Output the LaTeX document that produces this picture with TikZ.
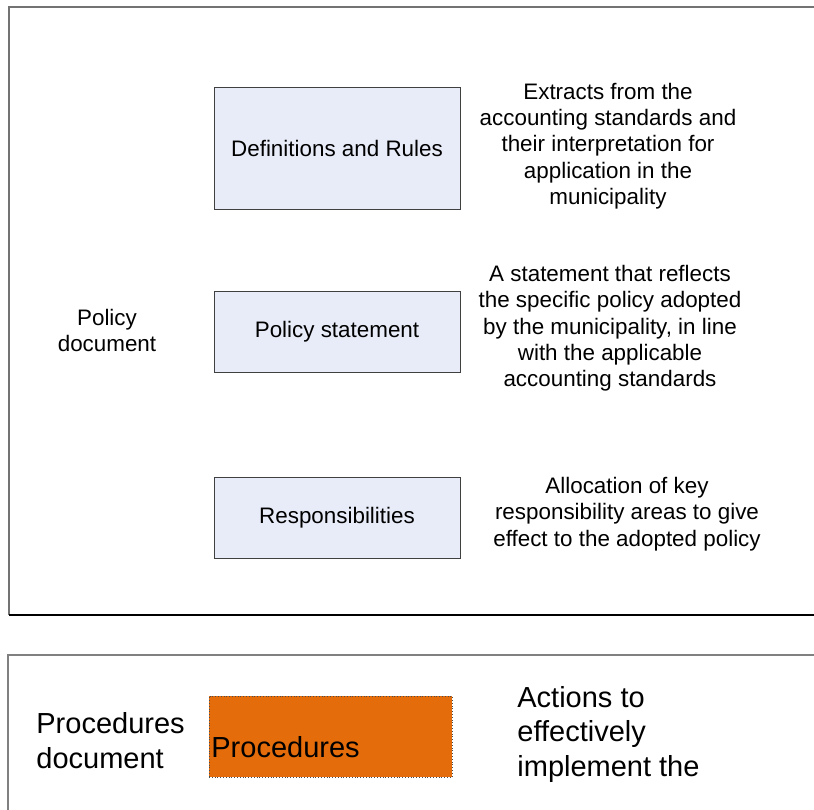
\documentclass[tikz,border=0pt]{standalone}
\usepackage{fontspec}
\setmainfont{Liberation Sans}
\definecolor{boxblue}{HTML}{E8ECF8}
\definecolor{procorange}{HTML}{E46C0A}
\begin{document}
\begin{tikzpicture}[x=0.5pt, y=-0.5pt,
  box/.style={draw=black!75, fill=boxblue, line width=0.5pt, minimum width=123pt, inner sep=0pt},
  small/.style={inner sep=0pt, align=center, font=\fontsize{11.2}{13.15}\selectfont},
  big/.style={inner sep=0pt, align=left, font=\fontsize{14.5}{17.25}\selectfont}]
\useasboundingbox (0,0) rectangle (814,809);
\clip (0,0) rectangle (814,809);
\draw[line width=0.75pt, black!55] (830,7) -- (9,7) -- (9,615);
\draw[line width=0.75pt, black] (9,615) -- (830,615);
\draw[line width=0.75pt, black!50] (830,655) -- (8,655) -- (8,830);
\node[box, minimum height=61pt, small] (defs) at (337,148) {Definitions and Rules};
\node[box, minimum height=40.5pt, small] (stmt) at (337,331.5) {Policy statement};
\node[box, minimum height=40.5pt, small] (resp) at (337,517.5) {Responsibilities};
\node[small] (policydoc) at (107,330.5) {Policy\\document};
\node[small] (defstext) at (608,146) {Extracts from the\\accounting standards and\\their interpretation for\\application in the\\municipality};
\node[small] (stmttext) at (610,328.5) {A statement that reflects\\the specific policy adopted\\by the municipality, in line\\with the applicable\\accounting standards};
\node[small] (resptext) at (627,514) {Allocation of key\\responsibility areas to give\\effect to the adopted policy};
\node[draw=black!70, densely dotted, line width=0.4pt, fill=procorange, minimum width=121.5pt, minimum height=40.5pt, inner sep=0pt] (proc) at (330.5,736.5) {};
\node[big, anchor=west] (proctext) at (211,747) {Procedures};
\node[big, anchor=west] (procdoc) at (36,740.5) {Procedures\\document};
\node[big, anchor=north west] (actions) at (517,686) {Actions to\\effectively\\implement the};
\end{tikzpicture}
\end{document}
